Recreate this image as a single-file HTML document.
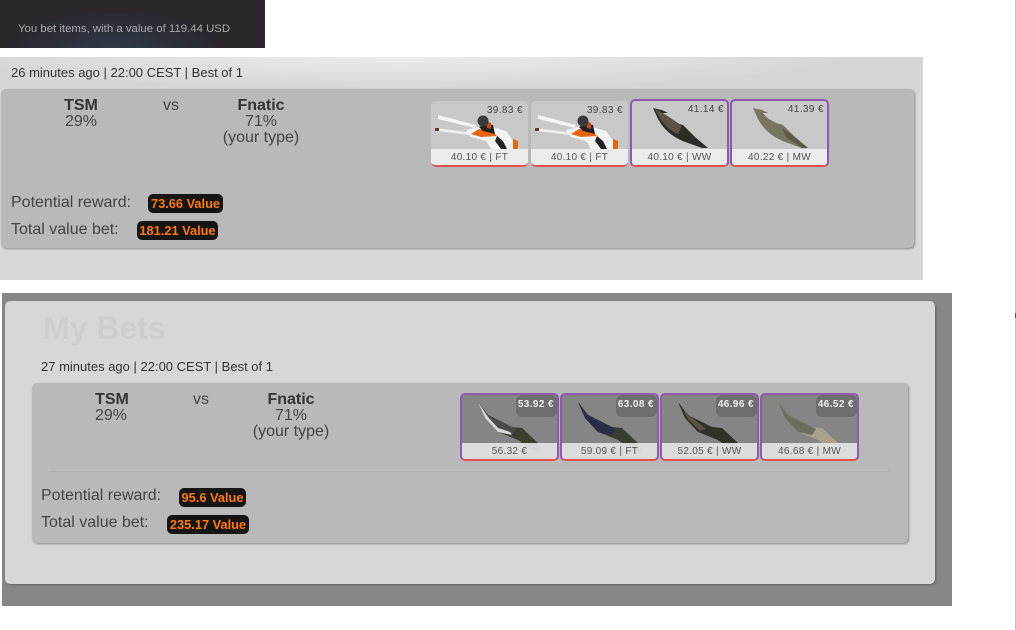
<!DOCTYPE html>
<html><head><meta charset="utf-8">
<style>
html,body{margin:0;padding:0;background:#fff;width:1016px;height:630px;overflow:hidden}
body{position:relative;font-family:"Liberation Sans",sans-serif;color:#3c3c3c}
div{position:absolute;box-sizing:border-box}
.t{white-space:nowrap;line-height:16px;font-size:16px;color:#444}
.c{transform:translateX(-50%);text-align:center}
.b{font-weight:bold;color:#333}
.m{font-size:13px;color:#333;white-space:nowrap;line-height:14px}
.box{background:#b9b9b9;border-radius:5px;box-shadow:1px 1px 2px #8a8a8a}
.bdg{background:#151515;border-radius:5px;color:#ff7a00;font-weight:bold;font-size:12.8px;line-height:19px;height:19px;text-align:center;white-space:nowrap}
.card{border-radius:5px;overflow:hidden;border-bottom:2px solid #e25050}
.p{border:2px solid #8e5ab0;border-bottom:2px solid #e25050}
.card svg{position:absolute;left:0;top:0}
.pr{position:absolute;font-size:10px;letter-spacing:.4px;color:#444;white-space:nowrap;line-height:14px}
.s{position:absolute;left:0;right:0;background:rgba(238,238,238,.92);font-size:10px;letter-spacing:.3px;color:#555;text-align:center;line-height:17px;height:16px;white-space:nowrap}
</style></head><body>

<div style="left:0;top:0;width:265px;height:48px;background:radial-gradient(ellipse 110px 40px at 115px 50px,#2f3a4a,#2a272d 100%)"></div>
<div style="left:18px;top:22px;font-size:11.4px;line-height:14px;color:#a9a9a9;white-space:nowrap">You bet items, with a value of 119.44 USD</div>

<!-- panel 1 -->
<div style="left:0;top:57px;width:923px;height:223px;background:#d8d8d8"></div>
<div style="left:0;top:57px;width:923px;height:40px;background:radial-gradient(ellipse 450px 32px at 400px 0,#ececec,#d6d6d6 100%)"></div>
<div class="m" style="left:11px;top:66px">26 minutes ago | 22:00 CEST | Best of 1</div>
<div class="box" style="left:1px;top:89px;width:913px;height:159px"></div>
<div class="t b c" style="left:81px;top:98px">TSM</div>
<div class="t c" style="left:81px;top:114px">29%</div>
<div class="t c" style="left:171px;top:98px">vs</div>
<div class="t b c" style="left:261px;top:98px">Fnatic</div>
<div class="t c" style="left:261px;top:114px">71%</div>
<div class="t c" style="left:261px;top:130px">(your type)</div>
<div class="t" style="left:11px;top:195px">Potential reward:</div>
<div class="bdg" style="left:148px;top:194px;width:75px">73.66 Value</div>
<div class="t" style="left:11px;top:222px">Total value bet:</div>
<div class="bdg" style="left:137px;top:221px;width:81px">181.21 Value</div>

<!-- AWP cards -->
<div class="card" style="left:431px;top:101px;width:97px;height:66px;background:#c8c8c8">
<svg width="97" height="66"><polygon points="7,14 45,24 44,27 7,18" fill="#f4f4f4"/><polygon points="4,27 38,31 38,34 5,30" fill="#eeeeee"/><rect x="4" y="27" width="4" height="3" fill="#5a3a2a"/><polygon points="35,29 55,24 75,30 88,48 60,48 55,40 40,36" fill="#f2f2f2"/><polygon points="40,33 48,28 60,29 66,35 50,36" fill="#e8640f"/><polygon points="48,26 55,23 62,24 64,33 52,30" fill="#222"/><polygon points="55,20 60,22 60,28 56,27" fill="#c84a10"/><circle cx="52" cy="20" r="5.5" fill="#3a3a3a"/><polygon points="66,35 72,40 76,48 70,48 64,40" fill="#222"/><polygon points="82,38 87,40 87,48 82,48" fill="#e8640f"/></svg>
<div class="pr" style="right:5px;top:3px">39.83 €</div>
<div class="s" style="top:48px">40.10 € | FT</div></div>
<div class="card" style="left:531px;top:101px;width:97px;height:66px;background:#c8c8c8">
<svg width="97" height="66"><polygon points="7,14 45,24 44,27 7,18" fill="#f4f4f4"/><polygon points="4,27 38,31 38,34 5,30" fill="#eeeeee"/><rect x="4" y="27" width="4" height="3" fill="#5a3a2a"/><polygon points="35,29 55,24 75,30 88,48 60,48 55,40 40,36" fill="#f2f2f2"/><polygon points="40,33 48,28 60,29 66,35 50,36" fill="#e8640f"/><polygon points="48,26 55,23 62,24 64,33 52,30" fill="#222"/><polygon points="55,20 60,22 60,28 56,27" fill="#c84a10"/><circle cx="52" cy="20" r="5.5" fill="#3a3a3a"/><polygon points="66,35 72,40 76,48 70,48 64,40" fill="#222"/><polygon points="82,38 87,40 87,48 82,48" fill="#e8640f"/></svg>
<div class="pr" style="right:5px;top:3px">39.83 €</div>
<div class="s" style="top:48px">40.10 € | FT</div></div>

<!-- gut knife cards -->
<div class="card p" style="left:630px;top:99px;width:99px;height:68px;background:#c8c8c8">
<svg width="95" height="64"><path d="M21 7L30 9L36 12L31 12Q36 20 51 24L63 36L76 47L70 47L56 42Q35 35 26 18Z" fill="#2b2d26"/><path d="M23 8Q32 12 50 25L46 33Q32 28 23 8Z" fill="#5c5249"/></svg>
<div class="pr" style="right:3px;top:2px">41.14 €</div>
<div class="s" style="top:48px">40.10 € | WW</div></div>
<div class="card p" style="left:730px;top:99px;width:99px;height:68px;background:#c8c8c8">
<svg width="95" height="64"><path d="M21 7L30 9L36 12L31 12Q36 20 51 24L63 36L76 47L70 47L56 42Q35 35 26 18Z" fill="#767660"/><path d="M50 27L63 36L76 47L70 47L54 36Z" fill="#5b5a48"/></svg>
<div class="pr" style="right:3px;top:2px">41.39 €</div>
<div class="s" style="top:48px">40.22 € | MW</div></div>

<!-- panel 2 -->
<div style="left:2px;top:293px;width:950px;height:313px;background:#878787"></div>
<div style="left:5px;top:301px;width:930px;height:283px;background:#d7d7d7;border-radius:5px;box-shadow:1px 1px 2px #5f5f5f"></div>
<div style="left:43px;top:309px;font-size:32px;line-height:38px;font-weight:bold;color:#cecece;white-space:nowrap">My Bets</div>
<div class="m" style="left:41px;top:360px">27 minutes ago | 22:00 CEST | Best of 1</div>
<div class="box" style="left:32px;top:383px;width:876px;height:160px"></div>
<div style="left:50px;top:471px;width:840px;height:1px;background:#b2b2b2"></div>
<div class="t b c" style="left:112px;top:392px">TSM</div>
<div class="t c" style="left:111px;top:408px">29%</div>
<div class="t c" style="left:201px;top:392px">vs</div>
<div class="t b c" style="left:291px;top:392px">Fnatic</div>
<div class="t c" style="left:291px;top:408px">71%</div>
<div class="t c" style="left:291px;top:424px">(your type)</div>
<div class="t" style="left:41px;top:488px">Potential reward:</div>
<div class="bdg" style="left:179px;top:488px;width:67px">95.6 Value</div>
<div class="t" style="left:41px;top:515px">Total value bet:</div>
<div class="bdg" style="left:167px;top:515px;width:82px">235.17 Value</div>

<div class="card p" style="left:460px;top:393px;width:99px;height:68px;background:#858585">
<svg width="95" height="64"><path d="M16 7L26 20L50 32L60 33L76 48L80 57L70 55L56 45L36 37L23 23Z" fill="#3a3e30"/><path d="M16 7L26 20L50 32L54 34L50 40L36 37L23 23Z" fill="#4a4a4a"/><path d="M16 7L23 23L36 37L50 40L48 37L36 33L26 22Z" fill="#d8d8d8"/></svg>
<div style="position:absolute;right:0;top:0;width:41px;height:22px;background:#6e6e6e;border-radius:6px"></div>
<div class="pr" style="right:3px;top:3px;color:#eee;font-weight:bold">53.92 €</div>
<div class="s" style="top:48px;background:rgba(228,228,228,.92)">56.32 €</div></div>
<div class="card p" style="left:560px;top:393px;width:99px;height:68px;background:#858585">
<svg width="95" height="64"><path d="M16 7L26 20L50 32L60 33L76 48L80 57L70 55L56 45L36 37L23 23Z" fill="#3a3e30"/><path d="M16 7L26 20L50 32L54 34L50 40L36 37L23 23Z" fill="#2a2d45"/></svg>
<div style="position:absolute;right:0;top:0;width:41px;height:22px;background:#6e6e6e;border-radius:6px"></div>
<div class="pr" style="right:3px;top:3px;color:#eee;font-weight:bold">63.08 €</div>
<div class="s" style="top:48px;background:rgba(228,228,228,.92)">59.09 € | FT</div></div>
<div class="card p" style="left:660px;top:393px;width:99px;height:68px;background:#858585">
<svg width="95" height="64"><path d="M16 7L26 20L50 32L60 33L76 48L80 57L70 55L56 45L36 37L23 23Z" fill="#2e3228"/><path d="M22 16L44 34L38 36L26 24Z" fill="#5c5245"/></svg>
<div style="position:absolute;right:0;top:0;width:41px;height:22px;background:#6e6e6e;border-radius:6px"></div>
<div class="pr" style="right:3px;top:3px;color:#eee;font-weight:bold">46.96 €</div>
<div class="s" style="top:48px;background:rgba(228,228,228,.92)">52.05 € | WW</div></div>
<div class="card p" style="left:760px;top:393px;width:99px;height:68px;background:#858585">
<svg width="95" height="64"><path d="M16 7L26 20L50 32L60 33L76 48L80 57L70 55L56 45L36 37L23 23Z" fill="#a6a28c"/><path d="M16 7L26 20L50 32L54 34L50 40L36 37L23 23Z" fill="#6c6c60"/></svg>
<div style="position:absolute;right:0;top:0;width:41px;height:22px;background:#6e6e6e;border-radius:6px"></div>
<div class="pr" style="right:3px;top:3px;color:#eee;font-weight:bold">46.52 €</div>
<div class="s" style="top:48px;background:rgba(228,228,228,.92)">46.68 € | MW</div></div>

<div style="left:1015px;top:0;width:1px;height:630px;background:#b9c1cc"></div>
<div style="left:1015px;top:313px;width:1px;height:5px;background:#555"></div>
</body></html>
